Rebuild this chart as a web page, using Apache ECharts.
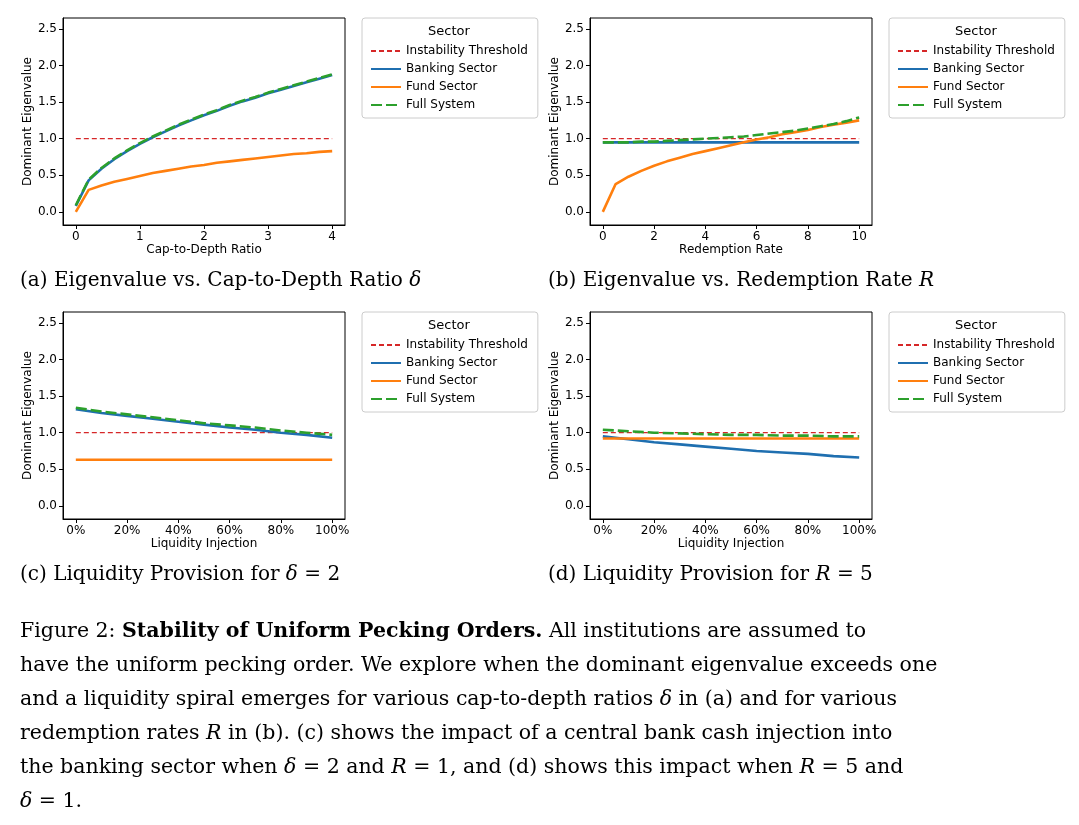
<!DOCTYPE html>
<html>
<head>
<meta charset="utf-8">
<title>Stability of Uniform Pecking Orders</title>
<script src="https://cdn.jsdelivr.net/npm/echarts@6/dist/echarts.min.js"></script>
<style>body{margin:0;background:#fff}</style>
</head>
<body>
<div id="main" style="width:1079px;height:825px;"></div>
<script>
// panel (a): cap-to-depth ratio
var deltaX = [0,0.2,0.4,0.6,0.8,1,1.2,1.4,1.6,1.8,2,2.2,2.4,2.6,2.8,3,3.2,3.4,3.6,3.8,4];
var bankA = [0.08,0.43,0.59,0.72,0.83,0.93,1.02,1.10,1.18,1.25,1.32,1.38,1.45,1.51,1.56,1.62,1.67,1.72,1.77,1.82,1.87];
var fundA = [0,0.30,0.36,0.41,0.45,0.49,0.53,0.56,0.59,0.62,0.64,0.67,0.69,0.71,0.73,0.75,0.77,0.79,0.80,0.82,0.83];
var fullA = [0.09,0.44,0.60,0.73,0.84,0.94,1.03,1.11,1.19,1.26,1.33,1.39,1.46,1.52,1.57,1.63,1.68,1.73,1.78,1.83,1.88];
// panel (b): redemption rate
var rateX = [0,0.5,1,1.5,2,2.5,3,3.5,4,4.5,5,5.5,6,6.5,7,7.5,8,8.5,9,9.5,10];
var bankB = [0.95,0.95,0.95,0.95,0.95,0.95,0.95,0.95,0.95,0.95,0.95,0.95,0.95,0.95,0.95,0.95,0.95,0.95,0.95,0.95,0.95];
var fundB = [0,0.38,0.48,0.56,0.63,0.69,0.74,0.79,0.83,0.87,0.91,0.95,0.99,1.02,1.06,1.09,1.12,1.16,1.19,1.22,1.25];
var fullB = [0.95,0.95,0.95,0.96,0.96,0.97,0.98,0.99,1.00,1.01,1.02,1.03,1.05,1.07,1.09,1.11,1.14,1.17,1.20,1.24,1.29];
// panels (c),(d): liquidity injection
var injX = [0,0.1,0.2,0.3,0.4,0.5,0.6,0.7,0.8,0.9,1];
var bankC = [1.32,1.27,1.23,1.19,1.15,1.11,1.07,1.04,1.00,0.97,0.93];
var fundC = [0.63,0.63,0.63,0.63,0.63,0.63,0.63,0.63,0.63,0.63,0.63];
var fullC = [1.34,1.29,1.25,1.21,1.17,1.13,1.10,1.07,1.03,1.00,0.97];
var bankD = [0.95,0.91,0.87,0.84,0.81,0.78,0.75,0.73,0.71,0.68,0.66];
var fundD = [0.92,0.92,0.92,0.92,0.92,0.92,0.92,0.92,0.92,0.92,0.92];
var fullD = [1.04,1.02,1.00,0.99,0.98,0.97,0.97,0.96,0.96,0.95,0.95];
var threshold = 1;
var yTicks = [0,0.5,1,1.5,2,2.5];
var names = ['Instability Threshold','Banking Sector','Fund Sector','Full System'];
var colors = ['#d62728','#1f6fb0','#ff7f0e','#2ca02c'];

var panels = [
  {left:63, top:18, x:deltaX, b:bankA, f:fundA, s:fullA, min:-0.2, max:4.2, ticks:[0,1,2,3,4], name:'Cap-to-Depth Ratio', pct:false},
  {left:590, top:18, x:rateX, b:bankB, f:fundB, s:fullB, min:-0.5, max:10.5, ticks:[0,2,4,6,8,10], name:'Redemption Rate', pct:false},
  {left:63, top:312, x:injX, b:bankC, f:fundC, s:fullC, min:-0.05, max:1.05, ticks:[0,0.2,0.4,0.6,0.8,1], name:'Liquidity Injection', pct:true},
  {left:590, top:312, x:injX, b:bankD, f:fundD, s:fullD, min:-0.05, max:1.05, ticks:[0,0.2,0.4,0.6,0.8,1], name:'Liquidity Injection', pct:true}
];

function pairs(xs, ys){ return xs.map(function(v,i){ return [v, ys[i]]; }); }

var grid = [], xAxis = [], yAxis = [], series = [], legend = [], graphic = [];
panels.forEach(function(p, i){
  grid.push({left:p.left, top:p.top, width:282, height:207, show:true, borderColor:'#000', borderWidth:1, backgroundColor:'#fff'});
  xAxis.push({type:'value', gridIndex:i, min:p.min, max:p.max, name:p.name, nameLocation:'middle', nameGap:19,
    nameTextStyle:{fontFamily:'DejaVu Sans', fontSize:12, color:'#000'},
    splitLine:{show:false}, axisLine:{onZero:false, lineStyle:{color:'#000'}},
    axisTick:{customValues:p.ticks, length:4, lineStyle:{color:'#000'}},
    axisLabel:{customValues:p.ticks, fontFamily:'DejaVu Sans', fontSize:12, color:'#000', margin:6,
      formatter:function(v){ return p.pct ? Math.round(v*100)+'%' : String(v); }}});
  yAxis.push({type:'value', gridIndex:i, min:-0.18, max:2.65, name:'Dominant Eigenvalue', nameLocation:'middle', nameGap:29,
    nameTextStyle:{fontFamily:'DejaVu Sans', fontSize:12, color:'#000'},
    splitLine:{show:false}, axisLine:{show:true, onZero:false, lineStyle:{color:'#000'}},
    axisTick:{show:true, customValues:yTicks, length:4, lineStyle:{color:'#000'}},
    axisLabel:{customValues:yTicks, fontFamily:'DejaVu Sans', fontSize:12, color:'#000', margin:6,
      formatter:function(v){ return v.toFixed(1); }}});
  var thr = p.x.map(function(){ return threshold; });
  var sets = [thr, p.b, p.f, p.s];
  sets.forEach(function(d, k){
    series.push({type:'line', name:names[k], xAxisIndex:i, yAxisIndex:i, data:pairs(p.x, d),
      symbol:'none', silent:true, z: k===3 ? 5 : (k===0 ? 2 : 3),
      itemStyle:{color:colors[k]},
      lineStyle:{color:colors[k], width: k===0 ? 1.3 : 2.6, type: k===0 ? [5,3] : (k===3 ? [11,4] : 'solid')}});
  });
  var lx = p.left + 299;
  legend.push({data:names, orient:'vertical', left:lx, top:p.top, itemWidth:30, itemHeight:10, itemGap:6,
    padding:[27,10,7,8], borderColor:'#ccc', borderWidth:1, borderRadius:3, backgroundColor:'#fff',
    itemStyle:{opacity:0},
    textStyle:{fontFamily:'DejaVu Sans', fontSize:12, color:'#000'}});
  graphic.push({type:'text', left:lx + 66, top:p.top + 7, z:100, style:{text:'Sector', font:'13px DejaVu Sans', fill:'#000'}});
});

var serif = 'DejaVu Serif';
var caps = [
  {x:20, y:271, t:'(a) Eigenvalue vs. Cap-to-Depth Ratio {i|δ}'},
  {x:548, y:271, t:'(b) Eigenvalue vs. Redemption Rate {i|R}'},
  {x:20, y:565, t:'(c) Liquidity Provision for {i|δ} = 2'},
  {x:548, y:565, t:'(d) Liquidity Provision for {i|R} = 5'}
];
caps.forEach(function(c){
  graphic.push({type:'text', left:c.x, top:c.y, z:100, style:{text:c.t, font:'20px ' + serif, fill:'#000',
    rich:{i:{fontStyle:'italic', fontFamily:serif, fontSize:20}}}});
});
var lines = [
  'Figure 2: {b|Stability of Uniform Pecking Orders.} All institutions are assumed to',
  'have the uniform pecking order. We explore when the dominant eigenvalue exceeds one',
  'and a liquidity spiral emerges for various cap-to-depth ratios {i|δ} in (a) and for various',
  'redemption rates {i|R} in (b). (c) shows the impact of a central bank cash injection into',
  'the banking sector when {i|δ} = 2 and {i|R} = 1, and (d) shows this impact when {i|R} = 5 and',
  '{i|δ} = 1.'
];
lines.forEach(function(t, k){
  graphic.push({type:'text', left:20, top:621 + k*34, z:100, style:{text:t, font:'20.5px ' + serif, fill:'#000',
    rich:{b:{fontWeight:'bold', fontFamily:serif, fontSize:20.5}, i:{fontStyle:'italic', fontFamily:serif, fontSize:20.5}}}});
});

var chart = echarts.init(document.getElementById('main'));
chart.setOption({animation:false, backgroundColor:'#fff', grid:grid, xAxis:xAxis, yAxis:yAxis,
  series:series, legend:legend, graphic:graphic});
</script>
</body>
</html>
